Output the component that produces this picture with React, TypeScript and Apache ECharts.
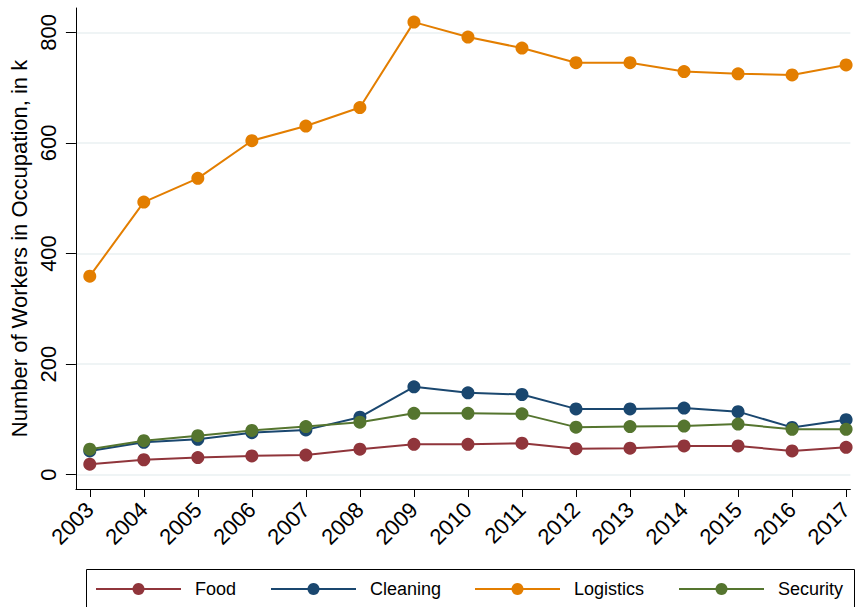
import React, { useEffect, useRef } from "react";
import * as echarts from "echarts";

const years = [2003, 2004, 2005, 2006, 2007, 2008, 2009, 2010, 2011, 2012, 2013, 2014, 2015, 2016, 2017];
const food = [19, 27, 31, 34, 35.5, 46, 55, 55, 57, 47, 48, 52, 52, 43, 49.5];
const cleaning = [43, 58.5, 64, 76, 81, 104, 159, 148, 145, 119, 119, 120.5, 114, 85.5, 99.5];
const logistics = [359, 493, 536, 604, 630.5, 664, 818.5, 791.5, 771.5, 745, 745, 729, 725, 723, 741];
const security = [46, 61.5, 70.5, 80, 87, 95, 111, 111, 110, 86, 87, 88, 91.5, 82, 82];
const yTicks = [0, 200, 400, 600, 800];
const seriesNames = ["Food", "Cleaning", "Logistics", "Security"];
const seriesColors = ["#90353b", "#1a476f", "#e37e00", "#55752f"];

const FONT = "'Liberation Sans', Arial, sans-serif";

export default function App() {
  const ref = useRef<HTMLDivElement>(null);
  useEffect(() => {
    if (!ref.current) return;
    const chart = echarts.init(ref.current, null, { renderer: "svg" });
    const seriesData = [food, cleaning, logistics, security];
    const legendLefts = [95, 270, 474, 678];
    const option: any = {
      animation: false,
      backgroundColor: "#ffffff",
      textStyle: { fontFamily: FONT },
      grid: { left: 75, right: 0, top: 8, bottom: 118, containLabel: false },
      xAxis: {
        type: "value",
        min: 2002.743,
        max: 2017.079,
        axisLine: { show: true, onZero: false, lineStyle: { color: "#000", width: 1 } },
        axisTick: { show: true, length: 8, customValues: years, lineStyle: { color: "#000", width: 1 } },
        axisLabel: {
          customValues: years,
          formatter: (v: number) => String(Math.round(v)),
          rotate: 45,
          margin: 17,
          fontSize: 22,
          color: "#000",
          fontFamily: FONT,
          hideOverlap: false,
        },
        splitLine: { show: false },
      },
      yAxis: {
        type: "value",
        min: -25.9,
        max: 844,
        name: "Number of Workers in Occupation, in k",
        nameLocation: "middle",
        nameRotate: 90,
        nameGap: 42,
        nameTextStyle: { fontSize: 22, color: "#000", fontFamily: FONT },
        axisLine: { show: true, onZero: false, lineStyle: { color: "#000", width: 1 } },
        axisTick: { show: true, length: 10, customValues: yTicks, lineStyle: { color: "#000", width: 1 } },
        axisLabel: {
          customValues: yTicks,
          formatter: (v: number) => String(Math.round(v)),
          rotate: 90,
          margin: 16,
          fontSize: 22,
          color: "#000",
          fontFamily: FONT,
        },
        splitLine: { show: true, lineStyle: { color: "#eaf0f2", width: 1.5 } },
      },
      legend: seriesNames.map((n, i) => ({
        data: [n],
        left: legendLefts[i],
        top: 580,
        padding: 0,
        itemWidth: 85,
        itemHeight: 15,
        selectedMode: false,
        textStyle: { fontSize: 18, color: "#000", fontFamily: FONT, padding: [0, 0, 0, 9] },
      })),
      graphic: [
        {
          type: "rect",
          shape: { x: 86.5, y: 569.5, width: 768, height: 60 },
          style: { fill: "none", stroke: "#000", lineWidth: 1 },
          silent: true,
          z: 100,
        },
      ],
      series: seriesNames.map((n, i) => ({
        name: n,
        type: "line",
        data: years.map((y, j) => [y, seriesData[i][j]]),
        symbol: "circle",
        symbolSize: 13,
        showSymbol: true,
        color: seriesColors[i],
        lineStyle: { color: seriesColors[i], width: 2 },
        itemStyle: { color: seriesColors[i] },
        clip: false,
        z: 2 + i,
      })),
    };
    chart.setOption(option);
    return () => chart.dispose();
  }, []);
  return (
    <div
      ref={ref}
      style={{ position: "fixed", left: 0, top: 0, width: 856, height: 607 }}
    />
  );
}
